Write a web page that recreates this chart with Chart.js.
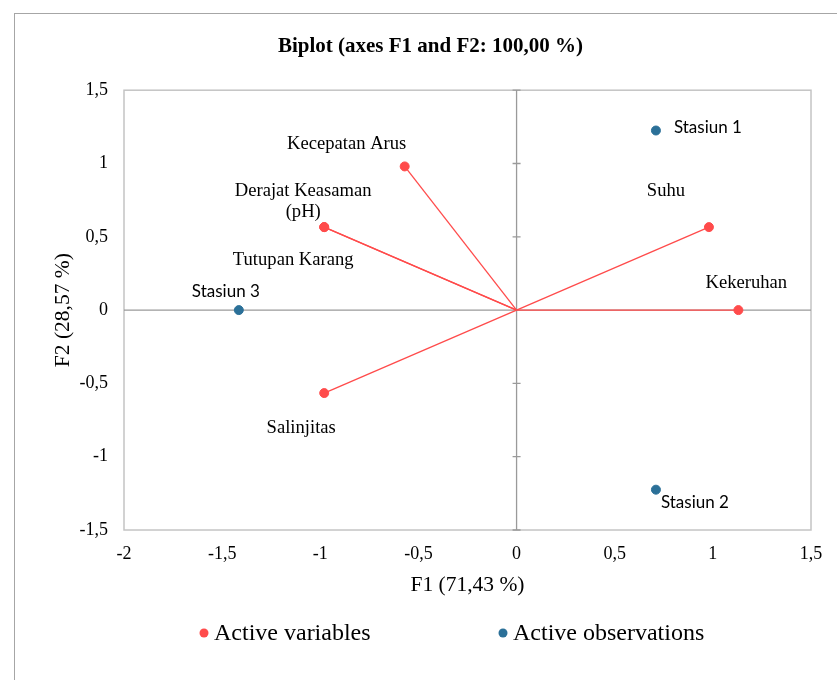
<!DOCTYPE html>
<html>
<head>
<meta charset="utf-8">
<script src="https://cdn.jsdelivr.net/npm/chart.js@4"></script>
<style>
  html, body { margin: 0; padding: 0; background: #fff; overflow: hidden; }
  #marco { position: absolute; left: 14px; top: 13px; width: 900px; height: 700px; border: 1px solid #a6a6a6; }
  #wrap { position: absolute; left: 0; top: 0; width: 837px; height: 680px; }
</style>
</head>
<body>
<div id="marco"></div>
<div id="wrap"><canvas id="chartBiplot" width="837" height="680"></canvas></div>
<script>
// Variables (vectores desde el origen)
const varNames = ['Kecepatan Arus', 'Derajat Keasaman (pH)', 'Tutupan Karang', 'Salinjitas', 'Suhu', 'Kekeruhan'];
const varF1 = [-0.57, -0.98, -0.98, -0.98, 0.98, 1.13];
const varF2 = [0.98, 0.566, 0.566, -0.566, 0.566, 0];

// Observaciones
const obsNames = ['Stasiun 1', 'Stasiun 2', 'Stasiun 3'];
const obsF1 = [0.71, 0.71, -1.415];
const obsF2 = [1.225, -1.225, 0];

const xTicks = [-2, -1.5, -1, -0.5, 0, 0.5, 1, 1.5];
const yTicks = [-1.5, -1, -0.5, 0, 0.5, 1, 1.5];

// Posición de las etiquetas respecto al punto (px)
const offVar = [[-58, -22], [-21, -36], [-31, 33], [-23, 35], [-43, -36], [8, -27]];
const offObs = [[52, -3], [39, 13], [-13, -19]];

const ROJO = '#ff4b4b';
const AZUL = '#2b7098';
const serif = '"Liberation Serif", "Times New Roman", serif';

function coma(v) {
    return String(v).replace('.', ',');
}

const datasets = [];
datasets.push({
    label: 'Active variables',
    data: varF1.map((x, i) => ({ x: x, y: varF2[i] })),
    backgroundColor: ROJO,
    borderColor: ROJO,
    pointRadius: 4.5,
    pointHoverRadius: 4.5
});
datasets.push({
    label: 'Active observations',
    data: obsF1.map((x, i) => ({ x: x, y: obsF2[i] })),
    backgroundColor: AZUL,
    borderColor: AZUL,
    pointRadius: 4.5,
    pointHoverRadius: 4.5
});
// Líneas desde el origen hasta cada variable
varF1.forEach((x, i) => {
    datasets.push({
        label: '',
        data: [{ x: 0, y: 0 }, { x: x, y: varF2[i] }],
        showLine: true,
        borderColor: ROJO,
        borderWidth: 1.3,
        pointRadius: 0
    });
});

const pluginBiplot = {
    id: 'biplot',
    beforeDatasetsDraw(chart) {
        const { ctx, chartArea: a, scales: { x, y } } = chart;
        const x0 = x.getPixelForValue(0);
        const y0 = y.getPixelForValue(0);
        ctx.save();
        // marco del área
        ctx.strokeStyle = '#c4c4c4';
        ctx.lineWidth = 1.5;
        ctx.strokeRect(a.left, a.top, a.right - a.left, a.bottom - a.top);
        // ejes por el origen
        ctx.strokeStyle = '#9a9a9a';
        ctx.lineWidth = 1.3;
        ctx.beginPath();
        ctx.moveTo(a.left, y0); ctx.lineTo(a.right, y0);
        ctx.moveTo(x0, a.top); ctx.lineTo(x0, a.bottom);
        yTicks.forEach(t => {
            const py = y.getPixelForValue(t);
            ctx.moveTo(x0 - 4, py); ctx.lineTo(x0 + 4, py);
        });
        ctx.stroke();
        ctx.restore();
    },
    afterDatasetsDraw(chart) {
        const { ctx, scales: { x, y } } = chart;
        ctx.save();
        ctx.textAlign = 'center';
        ctx.textBaseline = 'middle';
        ctx.fillStyle = '#000';
        ctx.font = '18.6px ' + serif;
        varNames.forEach((n, i) => {
            const px = x.getPixelForValue(varF1[i]) + offVar[i][0];
            const py = y.getPixelForValue(varF2[i]) + offVar[i][1];
            if (n === 'Derajat Keasaman (pH)') {
                ctx.fillText('Derajat Keasaman', px, py);
                ctx.fillText('(pH)', px, py + 21);
            } else {
                ctx.fillText(n, px, py);
            }
        });
        ctx.font = '17px Lato, "Liberation Sans", sans-serif';
        obsNames.forEach((n, i) => {
            const px = x.getPixelForValue(obsF1[i]) + offObs[i][0];
            const py = y.getPixelForValue(obsF2[i]) + offObs[i][1];
            ctx.fillText(n, px, py);
        });
        ctx.restore();
    },
    afterDraw(chart) {
        // leyenda
        const { ctx } = chart;
        const items = [[204, chart.data.datasets[0]], [503, chart.data.datasets[1]]];
        ctx.save();
        ctx.font = '24px ' + serif;
        ctx.textBaseline = 'middle';
        ctx.textAlign = 'left';
        items.forEach(([lx, ds]) => {
            ctx.fillStyle = ds.backgroundColor;
            ctx.beginPath();
            ctx.arc(lx, 633, 4.5, 0, Math.PI * 2);
            ctx.fill();
            ctx.fillStyle = '#000';
            ctx.fillText(ds.label, lx + 10, 634);
        });
        ctx.restore();
    }
};

new Chart(document.getElementById('chartBiplot'), {
    type: 'scatter',
    data: { datasets: datasets },
    options: {
        responsive: false,
        animation: false,
        events: [],
        layout: { padding: { left: 50, right: 26, top: 0, bottom: 78 } },
        plugins: {
            legend: { display: false },
            tooltip: { enabled: false },
            title: {
                display: true,
                text: 'Biplot (axes F1 and F2: 100,00 %)',
                color: '#000',
                font: { family: serif, size: 21, weight: 'bold' },
                padding: { top: 34, bottom: 31 }
            }
        },
        scales: {
            x: {
                min: -2,
                max: 1.5,
                afterBuildTicks: s => { s.ticks = xTicks.map(v => ({ value: v })); },
                afterFit: s => { s.height = 72; },
                grid: { display: false, drawTicks: false },
                border: { display: false },
                ticks: {
                    color: '#000',
                    padding: 13,
                    maxRotation: 0,
                    font: { family: serif, size: 18 },
                    callback: v => coma(v)
                },
                title: {
                    display: true,
                    text: 'F1 (71,43 %)',
                    color: '#000',
                    font: { family: serif, size: 21.5 },
                    padding: { top: 0, bottom: 4 }
                }
            },
            y: {
                min: -1.5,
                max: 1.5,
                afterBuildTicks: s => { s.ticks = yTicks.map(v => ({ value: v })); },
                afterFit: s => { s.width = 74; },
                grid: { display: false, drawTicks: false },
                border: { display: false },
                ticks: {
                    color: '#000',
                    padding: 16,
                    font: { family: serif, size: 18 },
                    callback: v => coma(v)
                },
                title: {
                    display: true,
                    text: 'F2 (28,57 %)',
                    color: '#000',
                    font: { family: serif, size: 21.5 },
                    padding: { top: 0, bottom: 0 }
                }
            }
        }
    },
    plugins: [pluginBiplot]
});
</script>
</body>
</html>
